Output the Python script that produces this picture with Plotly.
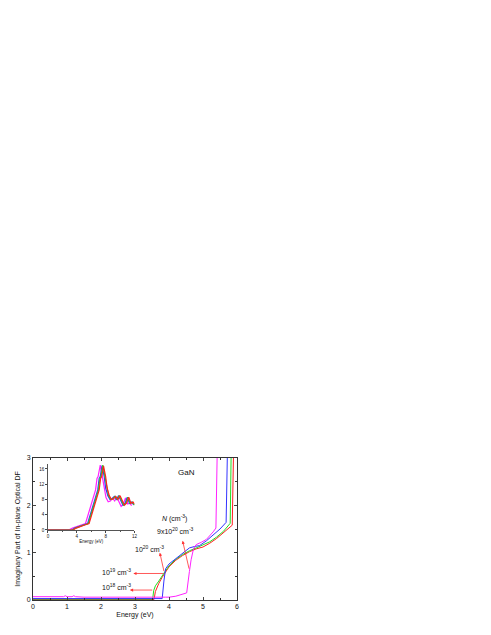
import plotly.graph_objects as go

# ---------------- main panel data ----------------
red_x = [0, 3.56, 3.6, 3.65, 3.7, 3.8, 3.9, 4.0, 4.2, 4.4, 4.6, 4.8, 5.0, 5.2, 5.4, 5.6, 5.86, 5.9]
red_y = [0.01, 0.01, 0.18, 0.28, 0.35, 0.48, 0.6, 0.7, 0.84, 0.94, 1.02, 1.08, 1.12, 1.2, 1.3, 1.42, 1.58, 3.2]

green_x = [0, 3.52, 3.55, 3.6, 3.7, 3.8, 3.9, 4.0, 4.2, 4.4, 4.6, 4.8, 5.0, 5.2, 5.4, 5.6, 5.8, 5.83]
green_y = [0.02, 0.02, 0.2, 0.3, 0.4, 0.52, 0.62, 0.72, 0.86, 0.96, 1.04, 1.1, 1.16, 1.23, 1.33, 1.45, 1.62, 3.2]

blue_x = [0, 3.8, 3.85, 3.9, 4.0, 4.2, 4.4, 4.6, 4.75, 4.9, 5.1, 5.3, 5.5, 5.68, 5.72]
blue_y = [0.03, 0.03, 0.4, 0.66, 0.76, 0.88, 1.0, 1.1, 1.13, 1.15, 1.25, 1.38, 1.5, 1.64, 3.2]

magenta_x = [0, 0.9, 0.95, 1.0, 1.15, 1.2, 1.25, 1.5, 3.9, 4.0, 4.2, 4.4, 4.52, 4.6, 4.65, 4.72, 4.8, 4.95, 5.1, 5.3, 5.38, 5.42]
magenta_y = [0.07, 0.07, 0.09, 0.07, 0.07, 0.09, 0.07, 0.06, 0.06, 0.06, 0.08, 0.12, 0.15, 0.6, 0.85, 1.08, 1.17, 1.22, 1.28, 1.44, 1.52, 3.2]

# ---------------- inset data ----------------
in_green_x = [0, 3.4, 3.8, 4.4, 5.0, 5.6, 5.9, 6.2, 6.5, 6.8, 7.0, 7.2, 7.35, 7.6, 7.9, 8.1, 8.4, 8.7, 9.0, 9.3, 9.6, 9.9, 10.2, 10.5, 10.8, 11.1, 11.4, 11.7, 12.0]
in_green_y = [0, 0, 0.5, 1.0, 1.3, 1.7, 3.5, 5.5, 7.5, 9.5, 10.5, 13.5, 14.0, 17.0, 14.0, 11.0, 9.0, 8.0, 8.2, 8.8, 8.0, 9.0, 7.8, 6.5, 7.0, 8.6, 7.0, 7.3, 6.5]

in_red_x = [0, 3.5, 3.9, 4.5, 5.1, 5.7, 6.0, 6.3, 6.6, 6.9, 7.1, 7.3, 7.45, 7.7, 8.0, 8.2, 8.5, 8.8, 9.1, 9.4, 9.7, 10.0, 10.3, 10.6, 10.9, 11.2, 11.5, 11.8, 12.0]
in_red_y = [0, 0, 0.5, 1.0, 1.3, 1.7, 3.5, 5.5, 7.5, 9.5, 10.5, 13.5, 14.0, 16.8, 14.0, 11.0, 9.0, 8.0, 8.2, 8.8, 8.0, 9.0, 7.8, 6.5, 7.0, 8.6, 7.0, 7.3, 6.8]

in_blue_x = [0, 3.3, 3.7, 4.3, 4.9, 5.5, 5.8, 6.1, 6.4, 6.7, 6.9, 7.1, 7.25, 7.5, 7.8, 8.0, 8.3, 8.6, 8.9, 9.2, 9.5, 9.8, 10.1, 10.4, 10.7, 11.0, 11.3, 11.6, 11.9]
in_blue_y = [0, 0, 0.5, 1.0, 1.3, 1.7, 3.5, 5.5, 7.5, 9.5, 10.5, 13.5, 14.0, 16.9, 14.0, 11.0, 9.0, 8.0, 8.2, 8.8, 8.0, 9.0, 7.8, 6.5, 7.0, 8.6, 7.0, 7.3, 6.6]

in_magenta_x = [0, 3.0, 3.4, 4.0, 4.6, 5.2, 5.5, 5.8, 6.1, 6.4, 6.6, 6.8, 6.95, 7.25, 7.55, 7.75, 8.05, 8.35, 8.65, 8.95, 9.25, 9.55, 9.85, 10.15, 10.45, 10.75, 11.05, 11.35, 11.6]
in_magenta_y = [0.1, 0.1, 0.5, 1.0, 1.3, 1.7, 3.5, 5.5, 7.5, 9.5, 10.5, 13.5, 14.0, 17.0, 14.0, 11.0, 8.5, 7.4, 7.6, 8.4, 7.6, 8.6, 7.4, 6.2, 6.8, 8.4, 6.8, 7.0, 6.4]

colors = {"red": "#ff2020", "green": "#22dd22", "blue": "#3333ff", "magenta": "#ff22ff"}

fig = go.Figure()

main_series = [("red", red_x, red_y), ("green", green_x, green_y),
               ("blue", blue_x, blue_y), ("magenta", magenta_x, magenta_y)]
for name, xs, ys in main_series:
    fig.add_trace(go.Scatter(x=xs, y=ys, mode="lines", line=dict(color=colors[name], width=1),
                             showlegend=False, xaxis="x", yaxis="y", cliponaxis=True))

inset_series = [("magenta", in_magenta_x, in_magenta_y), ("blue", in_blue_x, in_blue_y),
                ("green", in_green_x, in_green_y), ("red", in_red_x, in_red_y)]
for name, xs, ys in inset_series:
    fig.add_trace(go.Scatter(x=xs, y=ys, mode="lines", line=dict(color=colors[name], width=1.2),
                             showlegend=False, xaxis="x2", yaxis="y2"))

font_main = dict(family="Liberation Sans, Arial, sans-serif", size=7, color="#111111")
font_small = dict(family="Liberation Sans, Arial, sans-serif", size=4.5, color="#111111")

fig.update_layout(
    width=491, height=635,
    margin=dict(l=25, r=262, t=450, b=43),
    paper_bgcolor="white", plot_bgcolor="white",
    font=font_main,
    xaxis=dict(range=[0, 6], domain=[0, 1], tickvals=[0, 1, 2, 3, 4, 5, 6], ticks="inside", ticklen=3,
               tickwidth=0.8, mirror="allticks", showline=True, linecolor="#333333", linewidth=1,
               showgrid=False, zeroline=False, tickfont=font_main, automargin=False,
               minor=dict(dtick=0.5, ticks="inside", ticklen=2, tickcolor="#333333"),
               title=dict(text="Energy (eV)", font=font_main, standoff=2)),
    yaxis=dict(range=[0, 3], domain=[0, 1], tickvals=[0, 1, 2, 3], ticks="inside", ticklen=3,
               tickwidth=0.8, mirror="allticks", showline=True, linecolor="#333333", linewidth=1,
               showgrid=False, zeroline=False, tickfont=font_main, automargin=False,
               minor=dict(dtick=0.5, ticks="inside", ticklen=2, tickcolor="#333333"),
               title=dict(text="Imaginary Part of In-plane Optical DF", font=font_main, standoff=5)),
    xaxis2=dict(range=[0, 12], domain=[0.0735, 0.4975], anchor="y2", tickvals=[0, 4, 8, 12],
                ticks="outside", ticklen=2, tickwidth=0.6, showline=True, linecolor="#555555",
                linewidth=0.8, showgrid=False, zeroline=False, tickfont=font_small, automargin=False,
                minor=dict(dtick=2, ticks="outside", ticklen=1, tickcolor="#555555"),
                title=dict(text="Energy (eV)", font=font_small, standoff=1)),
    yaxis2=dict(range=[0, 17.3], domain=[0.493, 0.958], anchor="x2", tickvals=[0, 4, 8, 12, 16],
                ticks="outside", ticklen=2, tickwidth=0.6, showline=True, linecolor="#555555",
                linewidth=0.8, showgrid=False, zeroline=False, tickfont=font_small, automargin=False),
)

# text labels
labels = [
    (4.52, 2.7, "GaN", 8),
    (4.15, 1.72, "<i>N</i> (cm<sup>-3</sup>)", 7),
    (4.2, 1.46, "9x10<sup>20</sup> cm<sup>-3</sup>", 7),
    (3.44, 1.08, "10<sup>20</sup> cm<sup>-3</sup>", 7),
    (2.46, 0.6, "10<sup>19</sup> cm<sup>-3</sup>", 7),
    (2.46, 0.27, "10<sup>18</sup> cm<sup>-3</sup>", 7),
]
for x, y, t, s in labels:
    fig.add_annotation(x=x, y=y, xref="x", yref="y", text=t, showarrow=False,
                       font=dict(family="Liberation Sans, Arial, sans-serif", size=s, color="#111111"))

# arrows (head, tail)
arrows = [
    ((2.85, 0.21), (3.55, 0.21)),
    ((2.95, 0.56), (3.88, 0.56)),
    ((3.73, 1.0), (3.86, 0.58)),
    ((4.40, 1.25), (4.60, 0.63)),
]
for (hx, hy), (tx, ty) in arrows:
    fig.add_annotation(x=hx, y=hy, ax=tx, ay=ty, xref="x", yref="y", axref="x", ayref="y",
                       text="", showarrow=True, arrowhead=2, arrowsize=0.8, arrowwidth=0.8,
                       arrowcolor="#ff3030")

fig.write_html("out.html")
